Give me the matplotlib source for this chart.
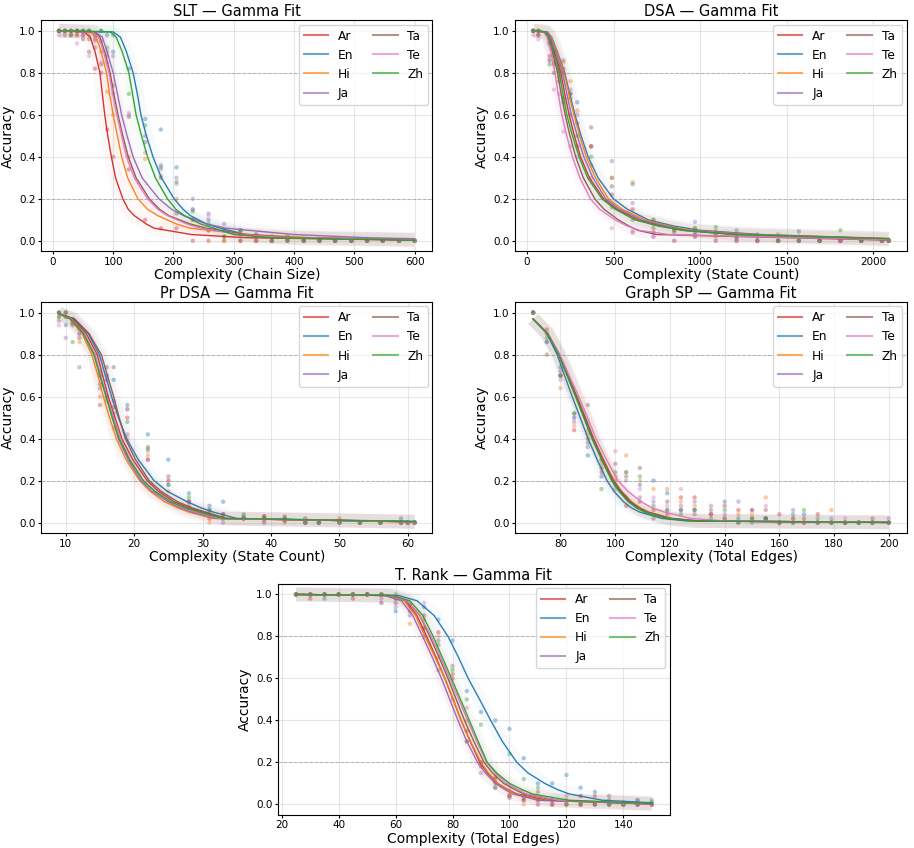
import numpy as np
import matplotlib
matplotlib.use('Agg')
from matplotlib import pyplot as plt
from matplotlib.gridspec import GridSpec
from matplotlib.lines import Line2D

langs = ['Ar', 'En', 'Hi', 'Ja', 'Ta', 'Te', 'Zh']
colors = {'Ar': 'tab:red', 'En': 'tab:blue', 'Hi': 'tab:orange', 'Ja': 'tab:purple',
          'Ta': 'tab:brown', 'Te': 'tab:pink', 'Zh': 'tab:green'}

# ---------------- SLT ----------------
slt_px = [10, 20, 30, 40, 50, 60, 70, 80, 90, 100, 126, 153, 179, 205, 232, 258, 284, 311,
          337, 363, 389, 416, 442, 468, 495, 521, 547, 574, 600]
slt_pts = {
    'Ar': [1.0, 1.0, 0.98, 1.0, 0.98, 0.96, 0.82, 0.8, 0.53, 0.4, 0.34, 0.10, 0.06, 0.06, 0.0, 0.0, 0.0, 0.0, 0.0, 0.0, 0.0, 0.0, 0.0, 0.0, 0.0, 0.0, 0.0, 0.0, 0.0],
    'En': [1.0, 1.0, 1.0, 1.0, 1.0, 1.0, 0.98, 1.0, 0.98, 0.9, 0.82, 0.58, 0.53, 0.35, 0.15, 0.1, 0.05, 0.05, 0.03, 0.02, 0.01, 0.0, 0.0, 0.0, 0.0, 0.0, 0.0, 0.0, 0.0],
    'Hi': [1.0, 1.0, 1.0, 0.98, 1.0, 0.98, 0.96, 0.9, 0.71, 0.6, 0.4, 0.39, 0.31, 0.2, 0.1, 0.05, 0.0, 0.03, 0.0, 0.0, 0.02, 0.0, 0.0, 0.0, 0.0, 0.0, 0.0, 0.0, 0.0],
    'Ja': [1.0, 1.0, 1.0, 1.0, 0.98, 1.0, 0.96, 0.95, 0.9, 0.88, 0.6, 0.5, 0.36, 0.3, 0.2, 0.13, 0.08, 0.05, 0.03, 0.02, 0.02, 0.01, 0.01, 0.0, 0.0, 0.01, 0.0, 0.0, 0.0],
    'Ta': [1.0, 0.98, 1.0, 0.98, 0.96, 0.9, 0.92, 0.84, 0.88, 0.74, 0.59, 0.47, 0.3, 0.13, 0.1, 0.05, 0.02, 0.0, 0.0, 0.0, 0.0, 0.0, 0.0, 0.0, 0.0, 0.0, 0.0, 0.0, 0.0],
    'Te': [0.98, 1.0, 0.98, 0.94, 1.0, 0.88, 0.95, 0.85, 0.85, 0.7, 0.61, 0.42, 0.34, 0.27, 0.15, 0.12, 0.05, 0.03, 0.0, 0.0, 0.01, 0.0, 0.0, 0.0, 0.0, 0.0, 0.0, 0.0, 0.0],
    'Zh': [1.0, 1.0, 0.98, 1.0, 1.0, 1.0, 0.98, 1.0, 0.92, 0.98, 0.7, 0.55, 0.35, 0.28, 0.14, 0.08, 0.02, 0.05, 0.02, 0.0, 0.0, 0.0, 0.0, 0.0, 0.0, 0.0, 0.0, 0.0, 0.0],
}
# fitted curve: x where the fit crosses each accuracy level
slt_levels = [1.0, 0.995, 0.97, 0.9, 0.8, 0.7, 0.6, 0.5, 0.4, 0.3, 0.2, 0.15, 0.12, 0.08, 0.06, 0.03, 0.015]
slt_fit = {
    'Ar': [10, 52, 62, 70, 78, 82, 86, 91, 97, 104, 116, 125, 135, 155, 168, 230, 320],
    'En': [10, 100, 112, 122, 133, 140, 146, 155, 166, 180, 201, 216, 228, 255, 278, 320, 390],
    'Hi': [10, 62, 72, 80, 89, 94, 100, 107, 114, 124, 141, 157, 174, 205, 228, 327, 430],
    'Ja': [10, 70, 82, 90, 100, 107, 114, 123, 133, 148, 176, 197, 217, 255, 288, 400, 520],
    'Ta': [10, 68, 78, 86, 95, 101, 108, 116, 125, 138, 160, 177, 192, 228, 255, 320, 400],
    'Te': [10, 66, 76, 84, 93, 99, 106, 114, 122, 135, 157, 174, 190, 222, 245, 310, 390],
    'Zh': [10, 95, 105, 115, 126, 132, 138, 147, 157, 170, 190, 204, 218, 245, 267, 300, 360],
}
slt_end = {'Ar': 0.003, 'En': 0.005, 'Hi': 0.006, 'Ja': 0.01, 'Ta': 0.005, 'Te': 0.005, 'Zh': 0.003}

# ---------------- DSA ----------------
dsa_px = [35, 65, 130, 155, 185, 210, 250, 290, 370, 490, 610, 730, 850, 970, 1090, 1210,
          1330, 1450, 1570, 1690, 1810, 1930, 2050, 2090]
dsa_pts = {
    'Ar': [1.0, 0.98, 0.88, 0.84, 0.8, 0.82, 0.70, 0.56, 0.45, 0.22, 0.15, 0.04, 0.06, 0.03, 0.045, 0.02, 0.0, 0.0, 0.02, 0.0, 0.0, 0.0, 0.0, 0.0],
    'En': [1.0, 1.0, 0.94, 0.9, 0.84, 0.8, 0.7, 0.66, 0.45, 0.3, 0.27, 0.08, 0.06, 0.04, 0.03, 0.02, 0.03, 0.0, 0.045, 0.0, 0.0, 0.0, 0.0, 0.0],
    'Hi': [1.0, 1.0, 0.95, 0.9, 0.82, 0.85, 0.76, 0.62, 0.45, 0.3, 0.28, 0.1, 0.05, 0.06, 0.02, 0.0, 0.0, 0.0, 0.0, 0.0, 0.0, 0.0, 0.0, 0.0],
    'Ja': [1.0, 1.0, 0.94, 0.88, 0.8, 0.86, 0.72, 0.6, 0.36, 0.38, 0.18, 0.02, 0.04, 0.09, 0.03, 0.01, 0.0, 0.03, 0.0, 0.0, 0.0, 0.0, 0.0, 0.0],
    'Ta': [1.0, 0.98, 0.86, 0.8, 0.76, 0.68, 0.6, 0.45, 0.54, 0.26, 0.04, 0.06, 0.0, 0.02, 0.0, 0.0, 0.0, 0.0, 0.0, 0.0, 0.0, 0.0, 0.0, 0.0],
    'Te': [0.98, 0.96, 0.86, 0.72, 0.7, 0.52, 0.45, 0.4, 0.3, 0.06, 0.05, 0.02, 0.0, 0.02, 0.0, 0.0, 0.0, 0.0, 0.0, 0.0, 0.0, 0.0, 0.0, 0.0],
    'Zh': [1.0, 1.0, 0.84, 0.85, 0.78, 0.66, 0.68, 0.5, 0.4, 0.16, 0.1, 0.1, 0.05, 0.06, 0.066, 0.05, 0.02, 0.0, 0.0, 0.0, 0.05, 0.0, 0.0, 0.0],
}
dsa_levels = [1.0, 0.995, 0.97, 0.9, 0.8, 0.7, 0.6, 0.5, 0.4, 0.3, 0.2, 0.15, 0.1, 0.07, 0.05, 0.03]
dsa_fit = {
    'Ar': [40, 108, 130, 158, 195, 218, 243, 273, 309, 360, 442, 520, 641, 780, 900, 1200],
    'En': [40, 117, 142, 175, 218, 246, 277, 312, 353, 410, 499, 580, 700, 850, 1000, 1350],
    'Hi': [40, 115, 140, 172, 214, 242, 271, 304, 342, 395, 470, 550, 680, 820, 950, 1300],
    'Ja': [40, 110, 135, 165, 205, 230, 256, 290, 328, 380, 455, 535, 660, 800, 920, 1250],
    'Ta': [40, 100, 122, 147, 176, 197, 220, 248, 281, 325, 391, 445, 527, 590, 640, 750],
    'Te': [40, 95, 115, 138, 161, 180, 201, 229, 262, 305, 366, 420, 508, 580, 650, 820],
    'Zh': [40, 105, 127, 152, 186, 207, 230, 262, 300, 350, 433, 510, 622, 760, 900, 1200],
}
dsa_end = {'Ar': 0.008, 'En': 0.01, 'Hi': 0.012, 'Ja': 0.01, 'Ta': 0.003, 'Te': 0.005, 'Zh': 0.01}

# ---------------- Pr DSA ----------------
prdsa_px = [9, 10, 11, 12, 15, 16, 17, 19, 22, 25, 28, 31, 33, 36, 39, 42, 45, 47, 50, 53,
            56, 59, 60, 61]
prdsa_pts = {
    'Ar': [1.0, 0.98, 0.97, 0.93, 0.7, 0.6, 0.55, 0.5, 0.3, 0.2, 0.1, 0.02, 0.04, 0.02, 0.03, 0.02, 0.02, 0.0, 0.01, 0.0, 0.0, 0.0, 0.0, 0.0],
    'En': [1.0, 0.94, 0.96, 0.9, 0.72, 0.7, 0.68, 0.56, 0.42, 0.3, 0.14, 0.08, 0.1, 0.03, 0.02, 0.02, 0.0, 0.0, 0.0, 0.0, 0.0, 0.02, 0.0, 0.0],
    'Hi': [0.98, 1.0, 0.95, 0.86, 0.6, 0.58, 0.45, 0.4, 0.32, 0.15, 0.1, 0.0, 0.03, 0.02, 0.01, 0.0, 0.0, 0.0, 0.02, 0.0, 0.0, 0.0, 0.0, 0.0],
    'Ja': [0.96, 0.88, 0.95, 0.74, 0.64, 0.68, 0.5, 0.42, 0.3, 0.18, 0.08, 0.04, 0.0, 0.02, 0.0, 0.01, 0.0, 0.0, 0.0, 0.0, 0.0, 0.0, 0.0, 0.0],
    'Ta': [1.0, 1.0, 0.94, 0.88, 0.56, 0.74, 0.74, 0.54, 0.36, 0.22, 0.1, 0.06, 0.04, 0.02, 0.03, 0.03, 0.0, 0.0, 0.0, 0.0, 0.0, 0.0, 0.0, 0.0],
    'Te': [0.94, 0.98, 0.96, 0.9, 0.7, 0.68, 0.58, 0.54, 0.34, 0.2, 0.1, 0.05, 0.02, 0.02, 0.0, 0.02, 0.0, 0.0, 0.0, 0.0, 0.0, 0.0, 0.0, 0.0],
    'Zh': [0.98, 1.0, 0.86, 0.92, 0.66, 0.6, 0.52, 0.48, 0.35, 0.18, 0.12, 0.06, 0.02, 0.04, 0.02, 0.01, 0.0, 0.0, 0.0, 0.0, 0.0, 0.0, 0.0, 0.0],
}
prdsa_levels = [0.995, 0.97, 0.9, 0.8, 0.7, 0.6, 0.5, 0.4, 0.3, 0.2, 0.15, 0.1, 0.07, 0.05, 0.02]
prdsa_fit = {
    'Ar': [9, 11.0, 13.0, 14.6, 15.4, 16.2, 17.2, 18.2, 19.8, 21.9, 23.5, 25.8, 28.0, 30.0, 33.0],
    'En': [9, 11.2, 13.3, 14.9, 15.8, 16.7, 17.7, 18.9, 20.6, 22.9, 24.8, 27.7, 29.8, 31.6, 35.0],
    'Hi': [9, 10.6, 12.4, 13.8, 14.7, 15.5, 16.4, 17.4, 18.8, 20.8, 22.3, 24.4, 26.4, 28.0, 31.5],
    'Ja': [9, 10.7, 12.6, 14.2, 15.0, 15.9, 16.8, 17.7, 19.1, 21.0, 22.6, 24.9, 26.8, 28.5, 32.0],
    'Ta': [9, 11.3, 13.4, 15.2, 16.1, 17.0, 17.8, 18.7, 20.2, 22.2, 23.9, 26.3, 28.5, 30.5, 33.5],
    'Te': [9, 10.8, 12.7, 14.3, 15.1, 16.0, 17.0, 18.0, 19.4, 21.4, 23.0, 25.3, 27.3, 29.0, 32.5],
    'Zh': [9, 10.7, 12.6, 14.1, 15.0, 15.9, 16.8, 17.8, 19.3, 21.3, 23.0, 25.3, 27.5, 29.5, 33.0],
}
prdsa_end = {'Ar': 0.004, 'En': 0.006, 'Hi': 0.003, 'Ja': 0.004, 'Ta': 0.004, 'Te': 0.004, 'Zh': 0.005}

# ---------------- Graph SP ----------------
gsp_px = [70, 75, 80, 85, 90, 95, 100, 104, 109, 114, 119, 124, 129, 135, 140, 145, 150,
          155, 160, 165, 169, 174, 179, 184, 189, 194, 200]
gsp_pts = {
    'Ar': [1.0, 0.92, 0.7, 0.44, 0.4, 0.24, 0.2, 0.08, 0.1, 0.06, 0.04, 0.12, 0.12, 0.04, 0.08, 0.06, 0.06, 0.02, 0.04, 0.0, 0.02, 0.04, 0.0, 0.0, 0.0, 0.0, 0.0],
    'En': [1.0, 0.86, 0.74, 0.5, 0.32, 0.22, 0.18, 0.12, 0.18, 0.2, 0.14, 0.06, 0.06, 0.04, 0.1, 0.02, 0.0, 0.02, 0.0, 0.04, 0.04, 0.0, 0.0, 0.0, 0.0, 0.0, 0.0],
    'Hi': [1.0, 0.9, 0.64, 0.46, 0.42, 0.28, 0.22, 0.32, 0.2, 0.16, 0.16, 0.1, 0.08, 0.04, 0.02, 0.04, 0.04, 0.12, 0.0, 0.02, 0.0, 0.0, 0.06, 0.0, 0.0, 0.0, 0.0],
    'Ja': [1.0, 0.86, 0.72, 0.48, 0.36, 0.3, 0.16, 0.2, 0.12, 0.1, 0.06, 0.08, 0.1, 0.08, 0.04, 0.1, 0.06, 0.02, 0.0, 0.06, 0.0, 0.0, 0.02, 0.0, 0.0, 0.0, 0.02],
    'Ta': [1.0, 0.8, 0.7, 0.52, 0.56, 0.26, 0.28, 0.22, 0.26, 0.02, 0.1, 0.06, 0.04, 0.06, 0.02, 0.0, 0.02, 0.06, 0.0, 0.02, 0.0, 0.0, 0.0, 0.0, 0.0, 0.02, 0.0],
    'Te': [1.0, 0.9, 0.68, 0.5, 0.44, 0.3, 0.34, 0.24, 0.16, 0.12, 0.08, 0.16, 0.06, 0.04, 0.02, 0.0, 0.02, 0.08, 0.0, 0.0, 0.0, 0.0, 0.0, 0.02, 0.0, 0.0, 0.0],
    'Zh': [1.0, 0.88, 0.7, 0.52, 0.38, 0.16, 0.24, 0.24, 0.22, 0.08, 0.06, 0.04, 0.06, 0.02, 0.06, 0.0, 0.02, 0.02, 0.0, 0.0, 0.06, 0.02, 0.0, 0.0, 0.0, 0.0, 0.0],
}
gsp_levels = [0.97, 0.9, 0.8, 0.7, 0.6, 0.5, 0.4, 0.3, 0.2, 0.15, 0.1, 0.07, 0.05, 0.02, 0.008]
gsp_fit = {
    'Ar': [70, 75.3, 79.4, 82.5, 85.7, 88.7, 91.7, 95.2, 99.0, 101.7, 105.0, 108.0, 111.0, 119.5, 129],
    'En': [70, 75.0, 78.8, 81.5, 84.3, 87.2, 90.1, 93.4, 97.0, 99.5, 103.0, 106.0, 109.0, 117.0, 126],
    'Hi': [70, 75.4, 79.6, 82.8, 86.1, 89.2, 92.2, 95.8, 99.6, 102.3, 106.0, 109.3, 112.5, 121.0, 131],
    'Ja': [70, 75.3, 79.4, 82.6, 85.8, 88.9, 91.9, 95.4, 99.2, 102.0, 105.5, 108.5, 111.5, 120.0, 130],
    'Ta': [70, 75.3, 79.5, 82.7, 85.9, 89.0, 92.0, 95.5, 99.3, 102.1, 105.5, 108.7, 111.8, 120.0, 130],
    'Te': [70, 75.5, 79.8, 83.2, 86.7, 89.9, 93.0, 96.8, 101.0, 104.6, 109.5, 113.5, 118.0, 127.6, 140],
    'Zh': [70, 75.3, 79.3, 82.4, 85.5, 88.5, 91.5, 95.0, 98.7, 101.3, 104.7, 107.8, 110.8, 119.0, 128],
}
gsp_end = {'Ar': 0.001, 'En': 0.001, 'Hi': 0.001, 'Ja': 0.001, 'Ta': 0.001, 'Te': 0.002, 'Zh': 0.001}

# ---------------- T. Rank ----------------
tr_px = [25, 30, 35, 40, 45, 50, 55, 60, 65, 70, 75, 80, 85, 90, 95, 100, 105, 110, 115,
         120, 125, 130, 135, 140, 145, 150]
tr_pts = {
    'Ar': [1.0, 0.98, 1.0, 1.0, 0.98, 1.0, 1.0, 0.98, 0.95, 0.9, 0.82, 0.6, 0.35, 0.18, 0.13, 0.04, 0.02, 0.02, 0.0, 0.0, 0.04, 0.04, 0.0, 0.0, 0.0, 0.0],
    'En': [1.0, 1.0, 0.98, 1.0, 1.0, 1.0, 1.0, 0.92, 0.95, 0.94, 0.88, 0.78, 0.54, 0.44, 0.4, 0.36, 0.22, 0.1, 0.1, 0.14, 0.08, 0.06, 0.02, 0.01, 0.02, 0.01],
    'Hi': [1.0, 1.0, 1.0, 1.0, 1.0, 1.0, 1.0, 0.98, 0.86, 0.84, 0.7, 0.62, 0.4, 0.2, 0.1, 0.05, 0.0, 0.02, 0.0, 0.0, 0.0, 0.0, 0.0, 0.0, 0.0, 0.0],
    'Ja': [1.0, 1.0, 1.0, 1.0, 1.0, 1.0, 0.98, 0.94, 0.9, 0.8, 0.64, 0.5, 0.3, 0.15, 0.08, 0.03, 0.02, 0.0, 0.0, 0.0, 0.0, 0.0, 0.0, 0.0, 0.02, 0.0],
    'Ta': [1.0, 1.0, 1.0, 1.0, 1.0, 1.0, 0.96, 0.96, 0.92, 0.84, 0.78, 0.66, 0.3, 0.2, 0.12, 0.04, 0.03, 0.06, 0.02, 0.02, 0.0, 0.0, 0.04, 0.0, 0.0, 0.0],
    'Te': [1.0, 1.0, 1.0, 1.0, 1.0, 1.0, 0.96, 0.98, 0.94, 0.96, 0.8, 0.62, 0.46, 0.2, 0.1, 0.07, 0.04, 0.0, 0.0, 0.04, 0.04, 0.0, 0.0, 0.0, 0.0, 0.0],
    'Zh': [1.0, 1.0, 1.0, 1.0, 1.0, 1.0, 1.0, 1.0, 0.95, 0.88, 0.76, 0.64, 0.5, 0.38, 0.08, 0.24, 0.12, 0.08, 0.02, 0.0, 0.0, 0.0, 0.0, 0.0, 0.0, 0.02],
}
tr_levels = [1.0, 0.995, 0.97, 0.9, 0.8, 0.7, 0.6, 0.5, 0.4, 0.3, 0.2, 0.15, 0.1, 0.07, 0.05, 0.02]
tr_fit = {
    'Ar': [25, 58, 63.5, 67.5, 70.9, 74.2, 77.3, 80.2, 83.0, 86.2, 89.6, 92.2, 95.7, 99.5, 102.6, 113.0],
    'En': [25, 61, 67.5, 73.5, 78.4, 82.1, 85.5, 89.5, 93.4, 97.5, 102.6, 106.5, 112.4, 117.0, 121.0, 132.6],
    'Hi': [25, 57, 63, 67, 70.3, 73.9, 77.3, 80.2, 83.0, 86.3, 90.0, 92.6, 96.0, 99.5, 102.0, 111.0],
    'Ja': [25, 56, 62, 66, 69.5, 72.9, 76.1, 79.0, 81.9, 85.0, 88.8, 91.5, 95.0, 98.5, 101.0, 110.0],
    'Ta': [25, 58, 64, 68.5, 72.0, 75.3, 78.4, 81.3, 84.2, 87.5, 91.1, 94.0, 98.0, 102.0, 105.0, 116.0],
    'Te': [25, 58, 64, 68.5, 72.5, 75.8, 79.0, 82.2, 85.3, 88.5, 92.0, 95.0, 99.0, 103.0, 106.0, 117.0],
    'Zh': [25, 59, 65, 69.5, 73.2, 76.4, 79.6, 82.8, 85.9, 89.0, 92.2, 95.5, 100.0, 104.5, 108.0, 120.8],
}
tr_end = {'Ar': 0.002, 'En': 0.008, 'Hi': 0.002, 'Ja': 0.002, 'Ta': 0.003, 'Te': 0.003, 'Zh': 0.004}


def draw(ax, title, xlabel, px, pts, levels, fit, end, x_end):
    for lang in langs:
        c = colors[lang]
        xs = fit[lang] + [x_end]
        ys = levels + [end[lang]]
        # light band around the fit
        ax.plot(xs, ys, color=c, lw=10, alpha=0.03, solid_capstyle='butt',
                solid_joinstyle='round')
        ax.scatter(px, pts[lang], color=c, s=10, alpha=0.4, edgecolors='none')
        ax.plot(xs, ys, color=c, lw=1.0, alpha=0.95, solid_joinstyle='round')
    ax.axhline(0.8, color='gray', ls='--', lw=0.7, alpha=0.5)
    ax.axhline(0.2, color='gray', ls='--', lw=0.7, alpha=0.5)
    ax.set_yticks([0.0, 0.2, 0.4, 0.6, 0.8, 1.0])
    ax.grid(True, alpha=0.3)
    ax.tick_params(labelsize=7.5, length=2, pad=2)
    ax.set_title(title, fontsize=10.5, pad=3)
    ax.set_xlabel(xlabel, fontsize=10, labelpad=1)
    ax.set_ylabel('Accuracy', fontsize=10, labelpad=3)
    handles = [Line2D([], [], color=colors[l], lw=1.5, alpha=0.65) for l in langs]
    ax.legend(handles, langs, ncol=2, loc='upper right', fontsize=8.8,
              borderaxespad=0.35, columnspacing=1.6)


fig = plt.figure(figsize=(9.14, 8.48), dpi=100)
gs = GridSpec(3, 4, figure=fig, left=0.045, right=0.992, top=0.976, bottom=0.039,
              wspace=0.537, hspace=0.22)
ax1 = fig.add_subplot(gs[0, 0:2])
ax2 = fig.add_subplot(gs[0, 2:4])
ax3 = fig.add_subplot(gs[1, 0:2])
ax4 = fig.add_subplot(gs[1, 2:4])
ax5 = fig.add_subplot(gs[2, 1:3])

draw(ax1, 'SLT — Gamma Fit', 'Complexity (Chain Size)', slt_px, slt_pts, slt_levels, slt_fit, slt_end, 600)
draw(ax2, 'DSA — Gamma Fit', 'Complexity (State Count)', dsa_px, dsa_pts, dsa_levels, dsa_fit, dsa_end, 2090)
draw(ax3, 'Pr DSA — Gamma Fit', 'Complexity (State Count)', prdsa_px, prdsa_pts, prdsa_levels, prdsa_fit, prdsa_end, 61)
draw(ax4, 'Graph SP — Gamma Fit', 'Complexity (Total Edges)', gsp_px, gsp_pts, gsp_levels, gsp_fit, gsp_end, 200)
draw(ax5, 'T. Rank — Gamma Fit', 'Complexity (Total Edges)', tr_px, tr_pts, tr_levels, tr_fit, tr_end, 150)

fig.savefig('out.png', dpi=100)
